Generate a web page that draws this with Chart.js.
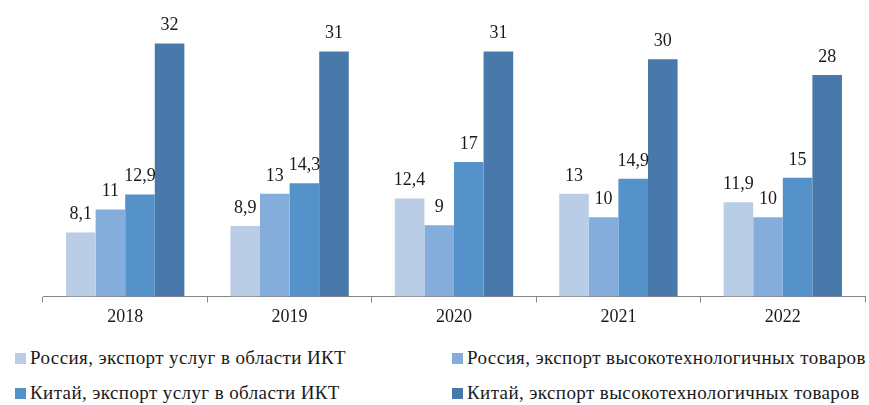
<!DOCTYPE html>
<html>
<head>
<meta charset="utf-8">
<script src="https://cdn.jsdelivr.net/npm/chart.js@4.4.1/dist/chart.umd.min.js"></script>
<style>
  body { margin: 0; background: #fff; }
  #wrap { position: relative; width: 869px; height: 405px; }
  #chartBox { position: absolute; left: 0; top: 0; width: 869px; height: 332px; }
  .legend { position: absolute; font-family: 'Liberation Serif', serif; font-size: 19px; letter-spacing: 0.4px; color: #1a1a1a; white-space: nowrap; }
  .legend span.box { display: inline-block; width: 11px; height: 11px; margin-right: 4px; vertical-align: 0px; }
</style>
</head>
<body>
<div id="wrap">
  <div id="chartBox"><canvas id="bars"></canvas></div>
  <div id="legend"></div>
</div>
<script>
const years = ['2018', '2019', '2020', '2021', '2022'];
const seriesNames = [
  'Россия, экспорт услуг в области ИКТ',
  'Россия, экспорт высокотехнологичных товаров',
  'Китай, экспорт услуг в области ИКТ',
  'Китай, экспорт высокотехнологичных товаров'
];
const ruIct = [8.1, 8.9, 12.4, 13, 11.9];
const ruHighTech = [11, 13, 9, 10, 10];
const cnIct = [12.9, 14.3, 17, 14.9, 15];
const cnHighTech = [32, 31, 31, 30, 28];
const colors = ['#b9cde6', '#85addb', '#5592c9', '#4879aa'];

const fontFamily = "'Liberation Serif', serif";

// value labels above each bar, comma as decimal separator
const valueLabels = {
  id: 'valueLabels',
  afterDatasetsDraw(chart) {
    const { ctx } = chart;
    ctx.save();
    ctx.font = `18px ${fontFamily}`;
    ctx.fillStyle = '#1a1a1a';
    ctx.textAlign = 'center';
    ctx.textBaseline = 'alphabetic';
    chart.data.datasets.forEach((ds, i) => {
      chart.getDatasetMeta(i).data.forEach((bar, j) => {
        const txt = String(ds.data[j]).replace('.', ',');
        ctx.fillText(txt, bar.x, bar.y - 13);
      });
    });
    ctx.restore();
  }
};

const datasets = [ruIct, ruHighTech, cnIct, cnHighTech].map((d, i) => ({
  label: seriesNames[i],
  data: d,
  backgroundColor: colors[i],
  borderWidth: 0,
  categoryPercentage: 0.72,
  barPercentage: 1
}));

new Chart(document.getElementById('bars'), {
  type: 'bar',
  data: { labels: years, datasets: datasets },
  options: {
    responsive: true,
    maintainAspectRatio: false,
    animation: false,
    layout: { padding: { left: 43, right: 4, top: 0, bottom: 0 } },
    plugins: {
      legend: { display: false },
      tooltip: { enabled: false }
    },
    scales: {
      x: {
        grid: { offset: true, drawOnChartArea: false, tickLength: 6, color: '#868686' },
        border: { color: '#868686' },
        ticks: { font: { family: fontFamily, size: 18 }, color: '#1a1a1a', padding: 4 }
      },
      y: { display: false, min: 0, max: 37.5 }
    }
  },
  plugins: [valueLabels]
});

// two-column legend under the chart
const legendPos = [[15, 347], [452, 347], [15, 382], [452, 382]];
const legendEl = document.getElementById('legend');
seriesNames.forEach((name, i) => {
  const div = document.createElement('div');
  div.className = 'legend';
  div.style.left = legendPos[i][0] + 'px';
  div.style.top = legendPos[i][1] + 'px';
  div.innerHTML = `<span class="box" style="background:${colors[i]}"></span>${name}`;
  legendEl.appendChild(div);
});
</script>
</body>
</html>
